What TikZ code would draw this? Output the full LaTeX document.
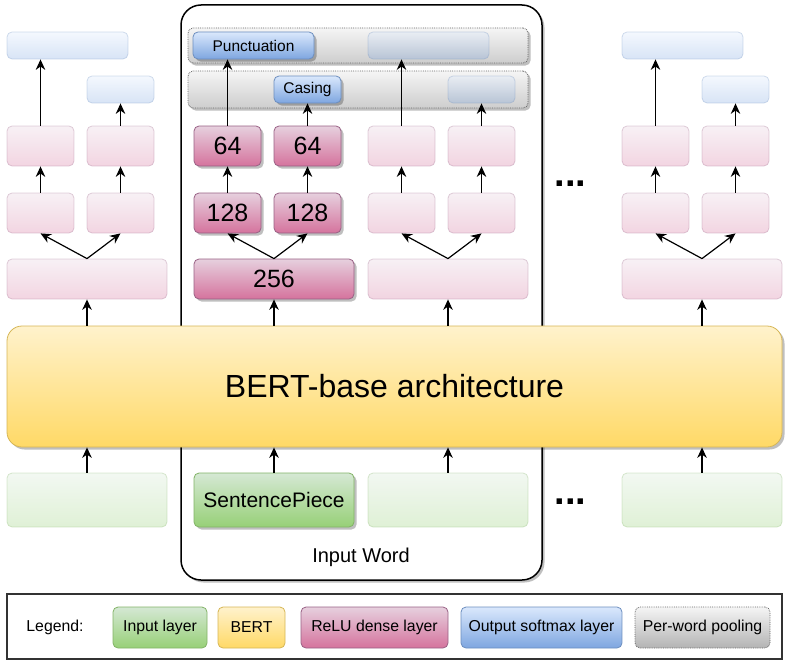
\documentclass[tikz,border=0pt]{standalone}
\usepackage{fontspec}
\setmainfont{Liberation Sans}
\usetikzlibrary{arrows.meta,shadows}
\definecolor{greentop}{HTML}{D5E8D4}\definecolor{greenbot}{HTML}{97D077}\definecolor{greenline}{HTML}{82B366}
\definecolor{bertop}{HTML}{FFF2CC}\definecolor{bertbot}{HTML}{FFD966}\definecolor{bertline}{HTML}{D6B656}
\definecolor{relutop}{HTML}{E6D0DE}\definecolor{relubot}{HTML}{D5739D}\definecolor{reluline}{HTML}{996185}
\definecolor{outtop}{HTML}{DAE8FC}\definecolor{outbot}{HTML}{7EA6E0}\definecolor{outline}{HTML}{6C8EBF}
\definecolor{pooltop}{HTML}{F5F5F5}\definecolor{poolbot}{HTML}{B3B3B3}\definecolor{poolline}{HTML}{666666}
\tikzset{box/.style={rounded corners=5pt,inner sep=0pt,line width=0.8pt}}
\tikzset{withshadow/.style={drop shadow={shadow xshift=2.5pt,shadow yshift=-2.5pt,opacity=0.25,fill=black}}}
\tikzset{faint/.style={opacity=0.3}}
\tikzset{inlayer/.style={box,draw=greenline,top color=greentop,bottom color=greenbot}}
\tikzset{bertlayer/.style={box,draw=bertline,top color=bertop,bottom color=bertbot}}
\tikzset{relu/.style={box,draw=reluline,top color=relutop,bottom color=relubot}}
\tikzset{softmax/.style={box,draw=outline,top color=outtop,bottom color=outbot}}
\tikzset{pool/.style={box,draw=poolline,densely dotted,top color=pooltop,bottom color=poolbot}}
\tikzset{outw/.style={minimum width=121pt,minimum height=27pt}}
\tikzset{outs/.style={minimum width=67pt,minimum height=27pt}}
\tikzset{smallbox/.style={minimum width=67pt,minimum height=40pt}}
\tikzset{widebox/.style={minimum width=160pt,minimum height=40pt}}
\tikzset{inbox/.style={minimum width=160pt,minimum height=54pt}}
\tikzset{legitem/.style={minimum height=41pt,font=\fontsize{15.8}{18}\selectfont}}
\tikzset{dotnode/.style={inner sep=0pt,font=\fontsize{38}{42}\selectfont\bfseries}}

\begin{document}
\begin{tikzpicture}[x=1pt,y=-1pt,>={Stealth[length=10.5pt,width=9.5pt]}]
          \useasboundingbox (0,0) rectangle (786,661);

          % Input word frame
          \node [draw,line width=1.5pt,rounded corners=20pt,minimum width=361pt,minimum height=575pt,
                 withshadow,fill=white] (word) at (361.5,292.5) {};
          \node [font=\fontsize{20}{24}\selectfont] (wordlbl) at (361,557) {Input Word};

          % Per-word pooling
          \node [pool,withshadow,minimum width=340pt,minimum height=35pt,bottom color=pooltop!40!poolbot] (poolA) at (358,45.5) {};
          \node [pool,withshadow,minimum width=340pt,minimum height=37pt,bottom color=pooltop!40!poolbot] (poolB) at (358,89.5) {};

          % Word 1
          \begin{scope}[every node/.style={faint}]
              \node [softmax,outw] (oA1) at (67.5,45.5) {};
              \node [softmax,outs] (oB1) at (120.5,89.5) {};
              \node [relu,smallbox] (hA1) at (40.5,146) {};
              \node [relu,smallbox] (hB1) at (120.5,146) {};
              \node [relu,smallbox] (gA1) at (40.5,213) {};
              \node [relu,smallbox] (gB1) at (120.5,213) {};
              \node [relu,widebox] (f1) at (87,279) {};
              \node [inlayer,inbox] (in1) at (87,500) {};
          \end{scope}

          % Word 2
          \begin{scope}[every node/.style={withshadow}]
              \node [softmax,outw,font=\fontsize{15.5}{18}\selectfont] (oA2) at (253.5,45.5) {Punctuation};
              \node [softmax,outs,font=\fontsize{15.5}{18}\selectfont] (oB2) at (307.5,89.5) {Casing};
              \node [relu,smallbox,font=\fontsize{25}{30}\selectfont] (hA2) at (227.5,146) {64};
              \node [relu,smallbox,font=\fontsize{25}{30}\selectfont] (hB2) at (307.5,146) {64};
              \node [relu,smallbox,font=\fontsize{25}{30}\selectfont] (gA2) at (227.5,213) {128};
              \node [relu,smallbox,font=\fontsize{25}{30}\selectfont] (gB2) at (307.5,213) {128};
              \node [relu,widebox,font=\fontsize{25}{30}\selectfont] (f2) at (274,279) {256};
              \node [inlayer,inbox,font=\fontsize{21}{25}\selectfont] (in2) at (274,500) {SentencePiece};
          \end{scope}

          % Word 3
          \begin{scope}[every node/.style={faint}]
              \node [softmax,outw] (oA3) at (428.5,45.5) {};
              \node [softmax,outs] (oB3) at (481.5,89.5) {};
              \node [relu,smallbox] (hA3) at (401.5,146) {};
              \node [relu,smallbox] (hB3) at (481.5,146) {};
              \node [relu,smallbox] (gA3) at (401.5,213) {};
              \node [relu,smallbox] (gB3) at (481.5,213) {};
              \node [relu,widebox] (f3) at (448,279) {};
              \node [inlayer,inbox] (in3) at (448,500) {};
          \end{scope}

          % Word N
          \begin{scope}[every node/.style={faint}]
              \node [softmax,outw] (oA4) at (682.5,45.5) {};
              \node [softmax,outs] (oB4) at (735.5,89.5) {};
              \node [relu,smallbox] (hA4) at (655.5,146) {};
              \node [relu,smallbox] (hB4) at (735.5,146) {};
              \node [relu,smallbox] (gA4) at (655.5,213) {};
              \node [relu,smallbox] (gB4) at (735.5,213) {};
              \node [relu,widebox] (f4) at (702,279) {};
              \node [inlayer,inbox] (in4) at (702,500) {};
          \end{scope}

          % Dots
          \node [dotnode] (dots1) at (570.5,184) {...};
          \node [dotnode] (dots2) at (570.5,502) {...};

          % BERT
          \node [bertlayer,withshadow,rounded corners=15pt,minimum width=775pt,minimum height=121pt,
                 font=\fontsize{32}{38}\selectfont] (bert) at (394.5,386.5) {BERT-base architecture};

          % Arrows
          \begin{scope}[line width=1.2pt]
              \path [->] (in1.north) edge (in1.north |- bert.south);
              \path [->] (in2.north) edge (in2.north |- bert.south);
              \path [->] (in3.north) edge (in3.north |- bert.south);
              \path [->] (in4.north) edge (in4.north |- bert.south);
              \path [->] (f1.south |- bert.north) edge (f1.south);
              \path [->] (f2.south |- bert.north) edge (f2.south);
              \path [->] (f3.south |- bert.north) edge (f3.south);
              \path [->] (f4.south |- bert.north) edge (f4.south);
              \path [->] (f1.north) edge (gA1.south) edge (gB1.south);
              \path [->] (f2.north) edge (gA2.south) edge (gB2.south);
              \path [->] (f3.north) edge (gA3.south) edge (gB3.south);
              \path [->] (f4.north) edge (gA4.south) edge (gB4.south);
              \path [->] (gA1) edge (hA1) (gB1) edge (hB1);
              \path [->] (gA2) edge (hA2) (gB2) edge (hB2);
              \path [->] (gA3) edge (hA3) (gB3) edge (hB3);
              \path [->] (gA4) edge (hA4) (gB4) edge (hB4);
              \path [->] (hA1.north) edge (hA1.north |- oA1.south) (hB1) edge (oB1);
              \path [->] (hA2.north) edge (hA2.north |- oA2.south) (hB2) edge (oB2);
              \path [->] (hA3.north) edge (hA3.north |- oA3.south) (hB3) edge (oB3);
              \path [->] (hA4.north) edge (hA4.north |- oA4.south) (hB4) edge (oB4);
          \end{scope}

          % Legend
          \node [draw=black!80,line width=1.2pt,minimum width=775pt,minimum height=65pt,inner sep=0pt] (legend) at (394.5,626.5) {};
          \node [font=\fontsize{15.8}{18}\selectfont] (leglbl) at (55,627) {Legend:};
          \node [inlayer,legitem,minimum width=94pt] (legin) at (160,627.5) {Input layer};
          \node [bertlayer,legitem,minimum width=67pt] (legbert) at (251.5,627.5) {BERT};
          \node [relu,legitem,minimum width=147pt] (legrelu) at (374.5,627.5) {ReLU dense layer};
          \node [softmax,legitem,minimum width=161pt] (legout) at (541.5,627.5) {Output softmax layer};
          \node [pool,legitem,minimum width=135pt] (legpool) at (702.5,627.5) {Per-word pooling};
\end{tikzpicture}
\end{document}
